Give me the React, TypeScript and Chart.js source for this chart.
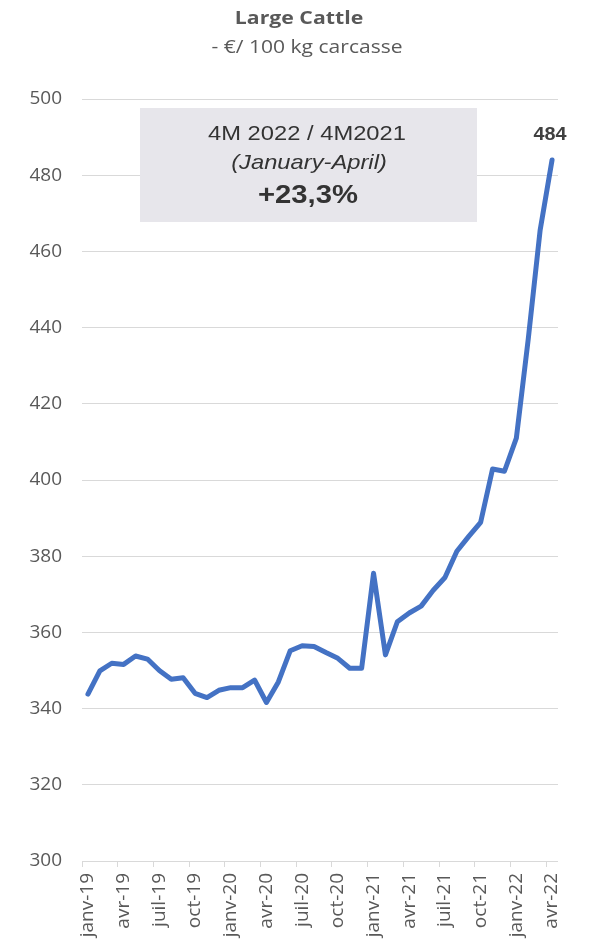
import React, { useEffect, useRef } from "react";
import { Chart, registerables } from "chart.js";

Chart.register(...registerables);

const months = ["janv", "févr", "mars", "avr", "mai", "juin", "juil", "août", "sept", "oct", "nov", "déc"];
const years = ["19", "20", "21", "22"];
const categories: string[] = [];
for (const y of years) {
  for (const m of months) {
    if (categories.length < 40) categories.push(`${m}-${y}`);
  }
}

const prices: number[] = [
  343.8, 349.9, 351.9, 351.6, 353.8, 353.0, 350.0, 347.7, 348.1, 344.0, 342.9, 344.8,
  345.5, 345.5, 347.5, 341.6, 347.0, 355.2, 356.5, 356.3, 354.7, 353.2, 350.6, 350.6,
  375.5, 354.1, 362.8, 365.1, 366.9, 371.0, 374.4, 381.3, 385.2, 388.9, 402.9, 402.3,
  411.0, 437.0, 465.6, 484.0,
];

const yTicks = { min: 300, max: 500, step: 20 };
const titleText = "Large Cattle";
const subtitleText = "- €/ 100 kg carcasse";
const boxLines = ["4M 2022 / 4M2021", "(January-April)", "+23,3%"];
const lastLabel = "484";

function stretchText(ctx: CanvasRenderingContext2D, text: string, x: number, y: number, sx: number) {
  ctx.save();
  ctx.translate(x, y);
  ctx.scale(sx, 1);
  ctx.fillText(text, 0, 0);
  ctx.restore();
}

const overlayPlugin = {
  id: "overlay",
  afterDraw(chart: any) {
    const ctx = chart.ctx as CanvasRenderingContext2D;
    ctx.save();
    ctx.textAlign = "center";
    ctx.textBaseline = "middle";
    // title
    ctx.fillStyle = "#595959";
    ctx.font = "bold 18px 'Open Sans'";
    stretchText(ctx, titleText, 299, 19, 1.18);
    ctx.font = "18px 'Open Sans'";
    stretchText(ctx, subtitleText, 307, 48, 1.17);
    // annotation box
    ctx.fillStyle = "#e7e6eb";
    ctx.fillRect(140, 108, 337, 114);
    ctx.fillStyle = "#333333";
    ctx.font = "21px 'Liberation Sans'";
    stretchText(ctx, boxLines[0], 307, 134, 1.13);
    ctx.font = "italic 21px 'Liberation Sans'";
    stretchText(ctx, boxLines[1], 309, 163, 1.13);
    ctx.font = "bold 25px 'Liberation Sans'";
    stretchText(ctx, boxLines[2], 308, 196, 1.17);
    // last value label
    const meta = chart.getDatasetMeta(0);
    const pt = meta.data[meta.data.length - 1];
    ctx.fillStyle = "#404040";
    ctx.font = "bold 18px 'Liberation Sans'";
    stretchText(ctx, lastLabel, pt.x - 2, pt.y - 25, 1.1);
    ctx.restore();
  },
};

export default function App() {
  const ref = useRef<HTMLCanvasElement>(null);
  useEffect(() => {
    document.body.style.margin = "0";
    const chart = new Chart(ref.current!, {
      type: "line",
      data: {
        labels: categories,
        datasets: [
          {
            data: prices,
            borderColor: "#4472C4",
            borderWidth: 5,
            pointRadius: 0,
            tension: 0,
            borderJoinStyle: "round",
            borderCapStyle: "round",
            fill: false,
          },
        ],
      },
      options: {
        animation: false,
        responsive: false,
        maintainAspectRatio: false,
        layout: { padding: { top: 99, right: 32, left: 0, bottom: 0 } },
        plugins: { legend: { display: false }, tooltip: { enabled: false }, title: { display: false } },
        scales: {
          x: {
            offset: true,
            border: { display: false },
            grid: {
              offset: true,
              drawOnChartArea: false,
              drawTicks: true,
              tickLength: 6,
              color: (c: any) => (c.index % 3 === 0 ? "#d9d9d9" : "rgba(0,0,0,0)"),
              lineWidth: 1,
            },
            ticks: {
              autoSkip: false,
              minRotation: 90,
              maxRotation: 90,
              padding: 6,
              color: "#595959",
              font: { family: "Open Sans", size: 19 },
              callback: (_v: any, i: number) => (i % 3 === 0 ? categories[i] : ""),
            },
            afterFit: (s: any) => {
              s.height = 78;
            },
          },
          y: {
            min: yTicks.min,
            max: yTicks.max,
            border: { display: false },
            grid: { color: "#d9d9d9", lineWidth: 1, drawTicks: false },
            ticks: {
              stepSize: yTicks.step,
              padding: 20,
              color: "#595959",
              font: { family: "Open Sans", size: 19 },
            },
            afterFit: (s: any) => {
              s.width = 82;
            },
          },
        },
      },
      plugins: [overlayPlugin],
    });
    return () => chart.destroy();
  }, []);
  return (
    <div style={{ position: "absolute", left: 0, top: 0, width: 590, height: 939 }}>
      <canvas ref={ref} width={590} height={939} style={{ width: 590, height: 939 }} />
    </div>
  );
}
